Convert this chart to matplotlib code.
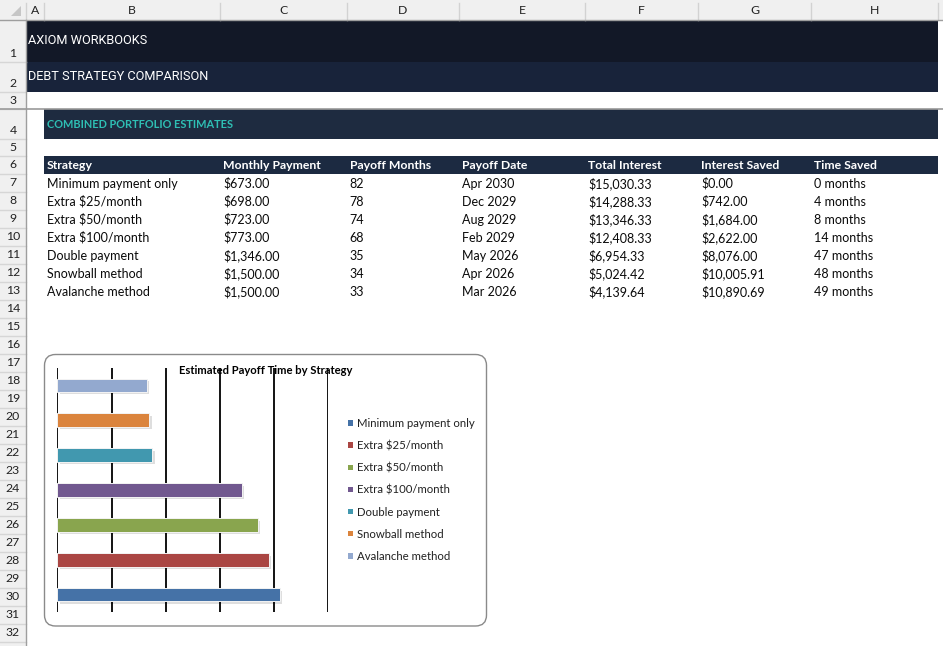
import matplotlib
matplotlib.use("Agg")
import matplotlib.pyplot as plt
import matplotlib.patheffects as pe
from matplotlib.patches import Rectangle, FancyBboxPatch, Polygon

plt.rcParams['text.parse_math'] = False

W, H = 943, 646
BODY_FONT = ['Lato', 'DejaVu Sans']
TITLE_FONT = ['Roboto', 'DejaVu Sans']

# sheet data
headers = ["Strategy", "Monthly Payment", "Payoff Months", "Payoff Date",
           "Total Interest", "Interest Saved", "Time Saved"]
strategies = ["Minimum payment only", "Extra $25/month", "Extra $50/month",
              "Extra $100/month", "Double payment", "Snowball method", "Avalanche method"]
monthly_payment = ["$673.00", "$698.00", "$723.00", "$773.00", "$1,346.00", "$1,500.00", "$1,500.00"]
payoff_months = [82, 78, 74, 68, 35, 34, 33]
payoff_date = ["Apr 2030", "Dec 2029", "Aug 2029", "Feb 2029", "May 2026", "Apr 2026", "Mar 2026"]
total_interest = ["$15,030.33", "$14,288.33", "$13,346.33", "$12,408.33", "$6,954.33", "$5,024.42", "$4,139.64"]
interest_saved = ["$0.00", "$742.00", "$1,684.00", "$2,622.00", "$8,076.00", "$10,005.91", "$10,890.69"]
time_saved = ["0 months", "4 months", "8 months", "14 months", "47 months", "48 months", "49 months"]

bar_colors = ["#4572A7", "#AA4643", "#89A54E", "#71588F", "#4198AF", "#DB843D", "#93A9CF"]

col_letters = list("ABCDEFGH")
col_edges = [26, 44, 220, 346.5, 459, 585, 698, 811, 937.5]
row_edges = [19.5, 62, 92, 109, 139, 156, 174] + [174 + 18 * i for i in range(1, 27)]

fig = plt.figure(figsize=(W / 100, H / 100), dpi=100)
bg = fig.add_axes([0, 0, 1, 1])
bg.set_xlim(0, W)
bg.set_ylim(H, 0)
bg.axis('off')

# headers of the grid
bg.add_patch(Rectangle((0, 0), W, row_edges[0], fc='#f0f0f0', ec='none'))
bg.add_patch(Rectangle((0, 0), col_edges[0], H, fc='#f0f0f0', ec='none'))
bg.add_patch(Polygon([(21, 6), (21, 16), (11, 16)], closed=True, fc='#c6c6c6', ec='none'))
for x in col_edges:
    bg.plot([x, x], [3, row_edges[0]], color='#d2d2d2', lw=1)
for i, letter in enumerate(col_letters):
    cx = (col_edges[i] + col_edges[i + 1]) / 2
    bg.text(cx, 11, letter, ha='center', va='center', fontsize=8.8,
            family=BODY_FONT, color='#222222')
for i in range(len(row_edges) - 1):
    top, bot = row_edges[i], row_edges[i + 1]
    bg.plot([0, col_edges[0]], [bot, bot], color='#d6d6d6', lw=1)
    ly = bot - 8.5 if bot - top > 20 else (top + bot) / 2
    bg.text(13, ly, str(i + 1), ha='center', va='center', fontsize=8.8,
            family=BODY_FONT, color='#222222')
bg.plot([0, W], [row_edges[0], row_edges[0]], color='#9e9e9e', lw=1)
bg.plot([col_edges[0], col_edges[0]], [row_edges[0], H], color='#9e9e9e', lw=1)

# banner rows
bg.add_patch(Rectangle((26, 19.5), 937.5 - 26, 62 - 19.5, fc='#121827', ec='none'))
bg.add_patch(Rectangle((26, 62), 937.5 - 26, 30, fc='#18233a', ec='none'))
bg.add_patch(Rectangle((44, 109), 937.5 - 44, 30, fc='#1e2b40', ec='none'))
bg.add_patch(Rectangle((44, 156), 937.5 - 44, 18, fc='#1c2a41', ec='none'))
bg.plot([0, W], [109, 109], color='#9a9a9a', lw=1.2)

bg.text(28, 40.5, "AXIOM WORKBOOKS", ha='left', va='center', fontsize=9.2,
        family=TITLE_FONT, color='white')
bg.text(28, 76.5, "DEBT STRATEGY COMPARISON", ha='left', va='center', fontsize=9.2,
        family=TITLE_FONT, color='white')
bg.text(47, 124, "COMBINED PORTFOLIO ESTIMATES", ha='left', va='center', fontsize=7.9,
        family=BODY_FONT, weight='bold', color='#2ebfb4')

# table
columns = [strategies, monthly_payment, [str(v) for v in payoff_months], payoff_date,
           total_interest, interest_saved, time_saved]
for j, head in enumerate(headers):
    x = col_edges[j + 1] + 3
    bg.text(x, 165.5, head, ha='left', va='center', fontsize=8.8,
            family=BODY_FONT, weight='bold', color='white')
    for i, val in enumerate(columns[j]):
        y = 183.5 + 18 * i
        bg.text(x, y, val, ha='left', va='center', fontsize=9,
                family=BODY_FONT, color='#0a0a0a')

# chart frame
bg.add_patch(FancyBboxPatch((44.5, 354.5), 442, 271.5,
                            boxstyle="round,pad=0,rounding_size=11",
                            fc='white', ec='#8a8a8a', lw=1))

px_l, px_r, px_t, px_b = 57.3, 328.3, 367.7, 612.3
ax = fig.add_axes([px_l / W, 1 - px_b / H, (px_r - px_l) / W, (px_b - px_t) / H])
ax.patch.set_alpha(0)
shadow = [pe.SimplePatchShadow(offset=(1.8, -1.8), shadow_rgbFace='#000000', alpha=0.13), pe.Normal()]
for i, (name, months, color) in enumerate(zip(strategies, payoff_months, bar_colors)):
    ax.barh(i, months, height=0.38, color=color, label=name, zorder=3,
            edgecolor='#f4f4f4', linewidth=0.7, path_effects=shadow)
ax.set_xlim(0, 100)
ax.set_ylim(-0.5, len(strategies) - 0.5)
ax.set_xticks(range(0, 101, 20))
ax.set_yticks([])
ax.tick_params(length=0, labelbottom=False)
ax.set_axisbelow(True)
ax.grid(axis='x', color='black', lw=1.3)
for s in ax.spines.values():
    s.set_visible(False)
ax.text((265.5 - px_l) / (px_r - px_l), 1 - (370 - px_t) / (px_b - px_t),
        "Estimated Payoff Time by Strategy", transform=ax.transAxes,
        ha='center', va='center', fontsize=8.1, weight='bold', family=BODY_FONT,
        color='black', zorder=0.2, clip_on=False)

handles = [Rectangle((0, 0), 1, 1, fc=c, ec='none') for c in bar_colors]
leg = ax.legend(handles, strategies, loc='upper left',
                bbox_to_anchor=(347.5 / W, 1 - 418 / H), bbox_transform=fig.transFigure,
                frameon=False, borderpad=0, borderaxespad=0, handlelength=0.47,
                handleheight=0.35, handletextpad=0.38, labelspacing=0.98,
                prop={'family': BODY_FONT, 'size': 8.2})
for t in leg.get_texts():
    t.set_color('#222222')

fig.savefig("out.png", dpi=100)
